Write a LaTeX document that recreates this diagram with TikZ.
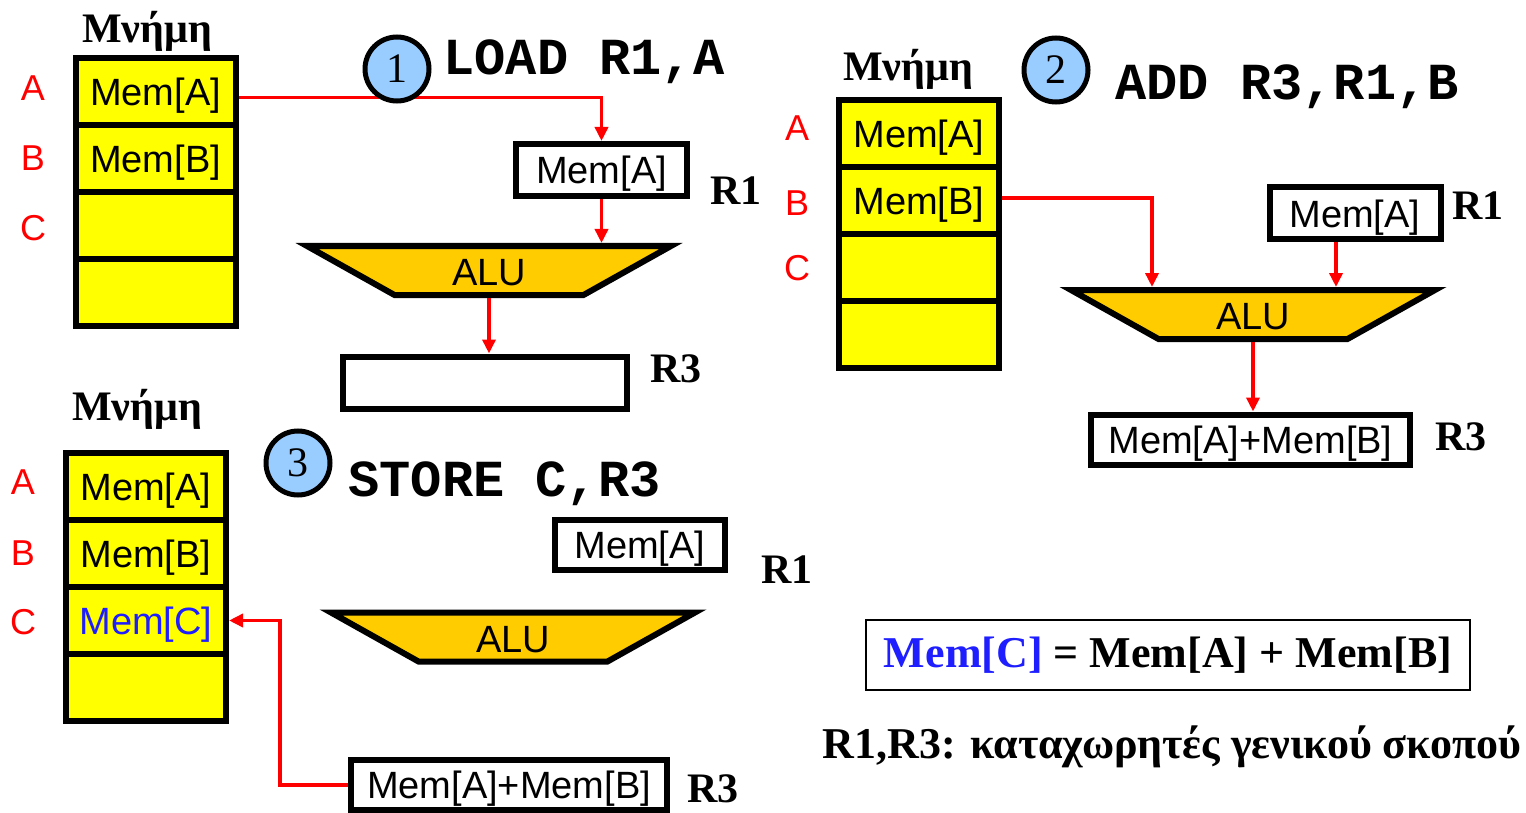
\documentclass[tikz,border=0pt]{standalone}
\usepackage{fontspec}
\setmainfont{Liberation Serif}
\setsansfont{Liberation Sans}
\setmonofont{Liberation Mono}
\usetikzlibrary{arrows.meta,calc}

\definecolor{memyellow}{RGB}{255,255,0}
\definecolor{alugold}{RGB}{255,204,0}
\definecolor{stepblue}{RGB}{153,204,255}
\definecolor{wirered}{RGB}{255,0,0}
\definecolor{valblue}{RGB}{30,30,255}

\newcommand{\fsz}[1]{\fontsize{#1}{#1}\selectfont}

\tikzset{
  cell/.style={draw=black, fill=memyellow, line width=6pt, minimum width=160pt,
    minimum height=67pt, inner sep=0pt, outer sep=3pt, text depth=0pt,
    font=\sffamily\fsz{38}},
  reg/.style={draw=black, fill=white, line width=6pt, minimum height=52pt,
    inner sep=0pt, outer sep=3pt, text depth=0pt, font=\sffamily\fsz{38}},
  addr/.style={text=wirered, font=\sffamily\fsz{36}},
  memtitle/.style={font=\bfseries\fsz{42}, anchor=base},
  reglabel/.style={font=\bfseries\fsz{42}, anchor=base west},
  stepnum/.style={circle, draw=black, fill=stepblue, line width=5pt,
    minimum size=64pt, inner sep=0pt, font=\fsz{42}},
  instr/.style={font=\ttfamily\bfseries\fsz{52}, anchor=base west},
  arr/.style={draw=wirered, line width=3.5pt, -{Triangle[length=14pt,width=13pt]}},
  alushape/.style={draw=black, fill=alugold, line width=6pt, line join=miter},
  alupic/.pic={
    \path[alushape] (-182,-24.5) -- (182,-24.5) -- (94.5,24.5) -- (-94.5,24.5) -- cycle;
    \node[font=\sffamily\fsz{38}, text depth=0pt] (-lbl) at (0,2) {ALU};
    \coordinate (-top) at (0,-27.5);
    \coordinate (-bot) at (0,27.5);
  }
}

\begin{document}
\begin{tikzpicture}[x=1pt,y=-1pt]
\useasboundingbox[fill=white] (0,0) rectangle (1526,813);

% ---------- step 1: LOAD R1,A ----------
\node[memtitle] (t1) at (147,43) {Μνήμη};
\node[cell] (m1a) at (155.5,91.5) {Mem[A]};
\node[cell] (m1b) at (155.5,158.5) {Mem[B]};
\node[cell] (m1c) at (155.5,225.5) {};
\node[cell] (m1d) at (155.5,292.5) {};
\node[addr] (a1) at (33,88) {A};
\node[addr] (b1) at (33,158) {B};
\node[addr] (c1) at (33,228) {C};

\node[reg, minimum width=171pt] (r1a) at (601.5,170) {Mem[A]};
\node[reglabel] (lr1a) at (707,205) {R1};
\pic (alu1) at (489,270.5) {alupic};
\node[reg, minimum width=284pt] (r3a) at (485,382.5) {};
\node[reglabel] (lr3a) at (647,382) {R3};

\draw[arr] ([yshift=-6pt]m1a.east) -| (r1a.north);
\draw[arr] (r1a.south) -- (r1a.south |- alu1-top);
\draw[arr] (alu1-bot) -- (alu1-bot |- r3a.north);

\node[stepnum] (s1) at (397,69) {1};
\node[instr] (i1) at (440,75) {LOAD R1,A};

% ---------- step 2: ADD R3,R1,B ----------
\node[memtitle] (t2) at (908,81) {Μνήμη};
\node[cell] (m2a) at (919,133.5) {Mem[A]};
\node[cell] (m2b) at (919,200.5) {Mem[B]};
\node[cell] (m2c) at (919,267.5) {};
\node[cell] (m2d) at (919,334.5) {};
\node[addr] (a2) at (797,128) {A};
\node[addr] (b2) at (797,203) {B};
\node[addr] (c2) at (797,268) {C};

\node[reg, minimum width=171pt] (r1b) at (1355,213.5) {Mem[A]};
\node[reglabel] (lr1b) at (1449,219) {R1};
\pic (alu2) at (1253,314.5) {alupic};
\coordinate (alu2in) at (1152,287);
\node[reg, minimum width=319pt, minimum height=50pt] (r3b) at (1250.5,439.5) {Mem[A]+Mem[B]};
\node[reglabel] (lr3b) at (1432,450) {R3};

\draw[arr] ([yshift=2.5pt]m2b.east) -| (alu2in);
\draw[arr] ([xshift=-19pt]r1b.south) -- ([xshift=-19pt]r1b.south |- alu2-top);
\draw[arr] (alu2-bot) -- (alu2-bot |- r3b.north);

\node[stepnum] (s2) at (1056,70) {2};
\node[instr] (i2) at (1112,100) {ADD R3,R1,B};

% ---------- step 3: STORE C,R3 ----------
\node[memtitle] (t3) at (137,420) {Μνήμη};
\node[cell] (m3a) at (146,486.5) {Mem[A]};
\node[cell] (m3b) at (146,553.5) {Mem[B]};
\node[cell, text=valblue] (m3c) at (146,620.5) {Mem[C]};
\node[cell] (m3d) at (146,687.5) {};
\node[addr] (a3) at (23,482) {A};
\node[addr] (b3) at (23,553) {B};
\node[addr] (c3) at (23,622) {C};

\node[reg, minimum width=170pt, minimum height=50pt] (r1c) at (640,545) {Mem[A]};
\node[reglabel] (lr1c) at (758,583) {R1};
\pic (alu3) at (513,637) {alupic};
\node[reg, minimum width=316pt, minimum height=50pt] (r3c) at (509,785) {Mem[A]+Mem[B]};
\node[reglabel] (lr3c) at (684,802) {R3};

\coordinate (tap3) at (280,620.5);
\draw[arr] (r3c.west) -| (tap3) -- (m3c.east);

\node[stepnum] (s3) at (298,463) {3};
\node[instr] (i3) at (345,496) {STORE C,R3};

% ---------- summary ----------
\node[draw=black, line width=2pt, minimum width=604pt, minimum height=70pt,
  inner sep=0pt, font=\bfseries\fsz{44}] (eq) at (1168,655)
  {{\color{valblue}Mem[C]} = Mem[A] + Mem[B]};
\node[font=\bfseries\fsz{44}, anchor=base west] (note) at (819,758)
  {R1,R3: καταχωρητές γενικού σκοπού};
\end{tikzpicture}
\end{document}
